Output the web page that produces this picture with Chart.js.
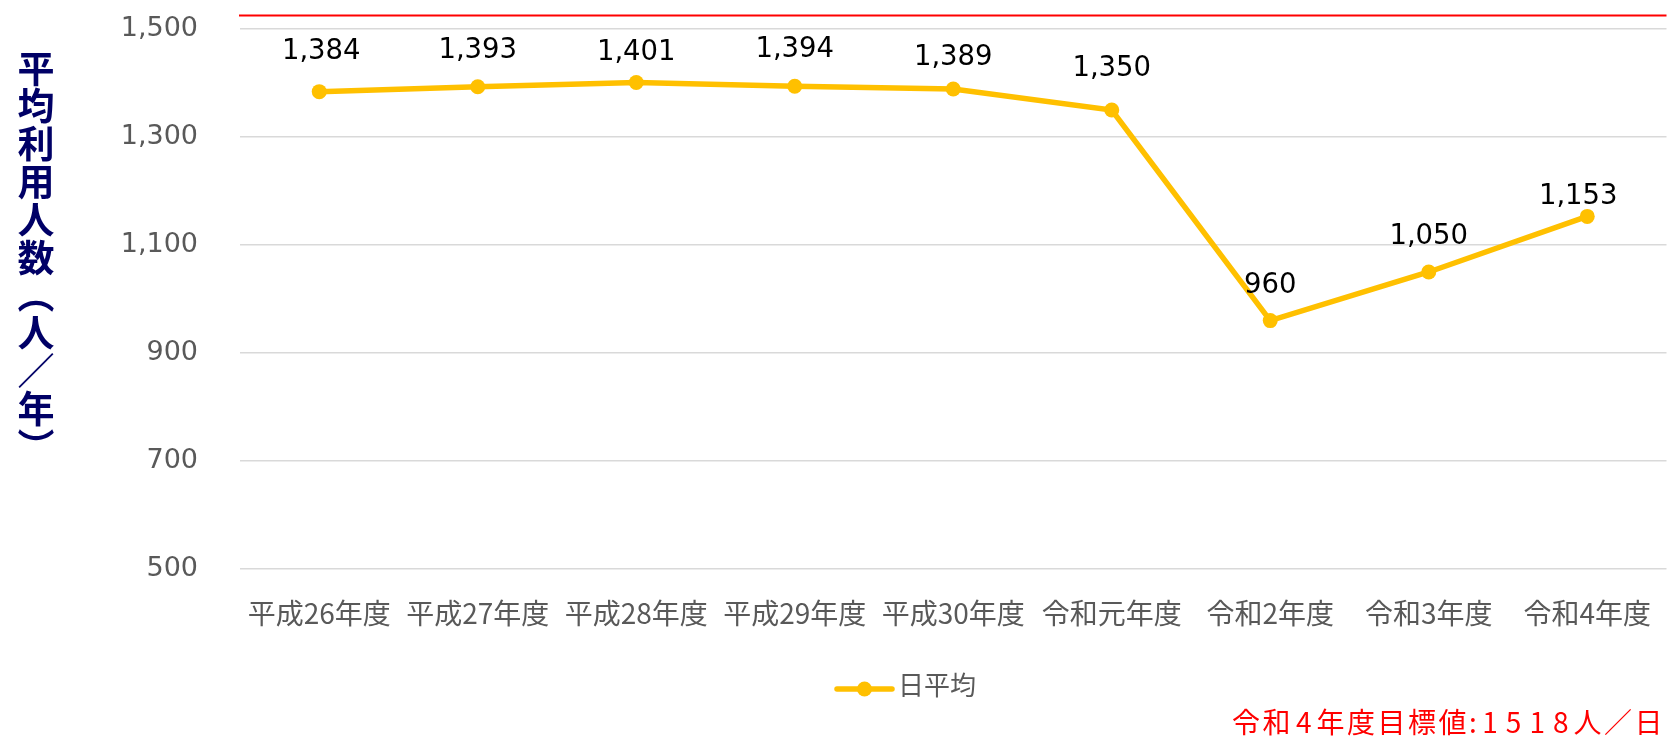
<!DOCTYPE html>
<html lang="ja">
<head>
<meta charset="utf-8">
<title>平均利用人数</title>
<script src="https://cdn.jsdelivr.net/npm/chart.js@4/dist/chart.umd.min.js"></script>
<style>
  html, body { margin: 0; padding: 0; background: #fff; }
  #wrap { position: relative; width: 1674px; height: 739px; }
  #axisTitle {
    position: absolute; left: 17px; top: 50px;
    writing-mode: vertical-rl;
    font: bold 37px "Noto Sans CJK JP", sans-serif;
    line-height: 37px; letter-spacing: 0.8px;
    color: #000066;
  }
  #targetNote {
    position: absolute; right: 9px; top: 706px;
    font: 28px "Noto Sans CJK JP", sans-serif;
    line-height: 30px; letter-spacing: 2.5px;
    color: #ff0000; white-space: nowrap;
  }
  #targetNote .num { letter-spacing: 8px; padding-left: 3px; margin-right: -3px; }
</style>
</head>
<body>
<div id="wrap">
  <canvas id="chart"></canvas>
  <div id="axisTitle"></div>
  <div id="targetNote"></div>
</div>
<script>
// data
const categories = ['平成26年度', '平成27年度', '平成28年度', '平成29年度', '平成30年度', '令和元年度', '令和2年度', '令和3年度', '令和4年度'];
const dailyAverage = [1384, 1393, 1401, 1394, 1389, 1350, 960, 1050, 1153];
const seriesName = '日平均';
const axisTitle = '平均利用人数（人／年）';
const yMin = 500;
const yMax = 1500;
const yStep = 200;
const targetLineValue = 1525; // red line sits a bit above the 1,500 grid
const targetNote = '令和4年度目標値:1518人／日';

// label placement (Excel labels were nudged by hand)
const labelLift = [40, 36, 30, 36, 31, 41, 35, 35, 20];
const labelNudgeX = [2, 0, 0, 0, 0, 0, 0, 0, -9];

const gold = '#FFC000';
const gray = '#595959';

document.getElementById('axisTitle').textContent = axisTitle;
// digits get a bit more room, like the original
document.getElementById('targetNote').innerHTML =
    targetNote.replace(/(\d+)/g, '<span class="num">$1</span>');

const targetLine = {
    id: 'targetLine',
    afterDraw(chart) {
        const { ctx, chartArea, scales } = chart;
        const y = scales.y.getPixelForValue(targetLineValue);
        ctx.save();
        ctx.strokeStyle = '#FF0000';
        ctx.lineWidth = 2;
        ctx.beginPath();
        ctx.moveTo(chartArea.left - 1, y);
        ctx.lineTo(chartArea.right, y);
        ctx.stroke();
        ctx.restore();
    }
};

const valueLabels = {
    id: 'valueLabels',
    afterDatasetsDraw(chart) {
        const { ctx } = chart;
        const meta = chart.getDatasetMeta(0);
        ctx.save();
        ctx.font = '27.5px "DejaVu Sans", Verdana, sans-serif';
        ctx.fillStyle = '#000';
        ctx.textAlign = 'center';
        ctx.textBaseline = 'middle';
        meta.data.forEach((pt, i) => {
            const v = chart.data.datasets[0].data[i];
            ctx.fillText(v.toLocaleString('en-US'), pt.x + labelNudgeX[i], pt.y - labelLift[i]);
        });
        ctx.restore();
    }
};

const lineLegend = {
    id: 'lineLegend',
    afterDraw(chart) {
        const { ctx } = chart;
        const ds = chart.data.datasets[0];
        const x0 = 837, x1 = 892, y = 689;
        ctx.save();
        ctx.strokeStyle = ds.borderColor;
        ctx.lineWidth = ds.borderWidth;
        ctx.lineCap = 'round';
        ctx.beginPath();
        ctx.moveTo(x0, y);
        ctx.lineTo(x1, y);
        ctx.stroke();
        ctx.fillStyle = ds.pointBackgroundColor;
        ctx.beginPath();
        ctx.arc((x0 + x1) / 2, y, ds.pointRadius, 0, Math.PI * 2);
        ctx.fill();
        ctx.font = '26px "Noto Sans CJK JP", sans-serif';
        ctx.fillStyle = gray;
        ctx.textAlign = 'left';
        ctx.textBaseline = 'middle';
        ctx.fillText(ds.label, x1 + 6, y - 4);
        ctx.restore();
    }
};

const chart = new Chart(document.getElementById('chart'), {
    type: 'line',
    data: {
        labels: categories,
        datasets: [{
            label: seriesName,
            data: dailyAverage,
            borderColor: gold,
            backgroundColor: gold,
            borderWidth: 5.5,
            pointRadius: 7.5,
            pointBackgroundColor: gold,
            pointBorderWidth: 0,
            tension: 0,
            fill: false
        }]
    },
    options: {
        responsive: true,
        maintainAspectRatio: false,
        animation: false,
        locale: 'en-US',
        layout: { padding: { top: 29, left: 0, right: 0, bottom: 0 } },
        plugins: {
            legend: { display: false },
            tooltip: { enabled: false }
        },
        scales: {
            x: {
                offset: true,
                grid: { display: false, drawTicks: false },
                border: { display: false },
                ticks: {
                    color: gray,
                    font: { family: '"Noto Sans CJK JP", sans-serif', size: 28 },
                    padding: 28,
                    maxRotation: 0,
                    autoSkip: false
                },
                afterFit(scale) {
                    scale.height = 170;
                    scale.paddingLeft = 0;
                    scale.paddingRight = 0;
                }
            },
            y: {
                min: yMin,
                max: yMax,
                grid: { color: '#D9D9D9', lineWidth: 1.5, drawTicks: false },
                border: { display: false },
                ticks: {
                    stepSize: yStep,
                    color: gray,
                    font: { family: '"DejaVu Sans", Verdana, sans-serif', size: 27 },
                    padding: 42
                },
                afterFit(scale) {
                    scale.width = 240;
                    scale.paddingTop = 0;
                    scale.paddingBottom = 0;
                }
            }
        }
    },
    plugins: [targetLine, valueLabels, lineLegend]
});
</script>
</body>
</html>
